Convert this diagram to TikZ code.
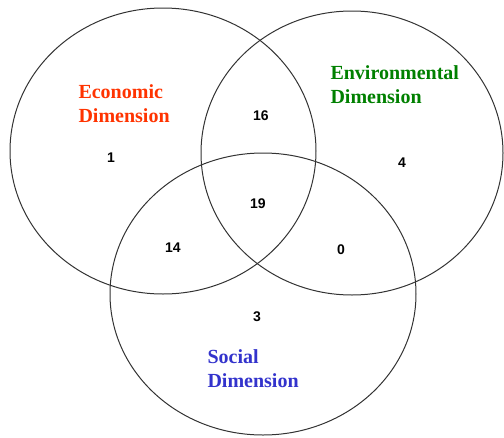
\documentclass[tikz,border=0pt]{standalone}
\usepackage{fontspec}
\setmainfont{Liberation Serif}
\newfontfamily\numfont{Liberation Sans}
\usetikzlibrary{positioning}

\definecolor{econred}{HTML}{FF3300}
\definecolor{envgreen}{HTML}{008000}
\definecolor{socblue}{HTML}{3333CC}

\begin{document}
\begin{tikzpicture}[x=1pt,y=-1pt,line width=1pt,
	       set/.style={draw=black!80},
	       dim label/.style={anchor=west, align=left, inner sep=0pt,
	                         font=\fontsize{20}{24}\selectfont\bfseries},
	       count/.style={inner sep=0pt, font=\numfont\fontsize{14}{16}\selectfont\bfseries}]

	      \useasboundingbox (0,0) rectangle (504,437);

	      \draw[set] (163,151) ellipse [x radius=153pt, y radius=143pt];
	      \draw[set] (352,153) ellipse [x radius=151pt, y radius=142pt];
	      \draw[set] (263,294) ellipse [x radius=153pt, y radius=141pt];

	      \node[dim label, text=econred] at (78,104) (econ) {Economic\\Dimension};
	      \node[dim label, text=envgreen] at (330,85) (env) {Environmental\\Dimension};
	      \node[dim label, text=socblue] at (207,369) (soc) {Social\\Dimension};

	      \node[count] at (111,158) (1) {1};
	      \node[count] at (261,116) (2) {16};
	      \node[count] at (402,163) (3) {4};
	      \node[count] at (258,204) (4) {19};
	      \node[count] at (173,248) (5) {14};
	      \node[count] at (341,250) (6) {0};
	      \node[count] at (257,317) (7) {3};

	    \end{tikzpicture}
\end{document}
